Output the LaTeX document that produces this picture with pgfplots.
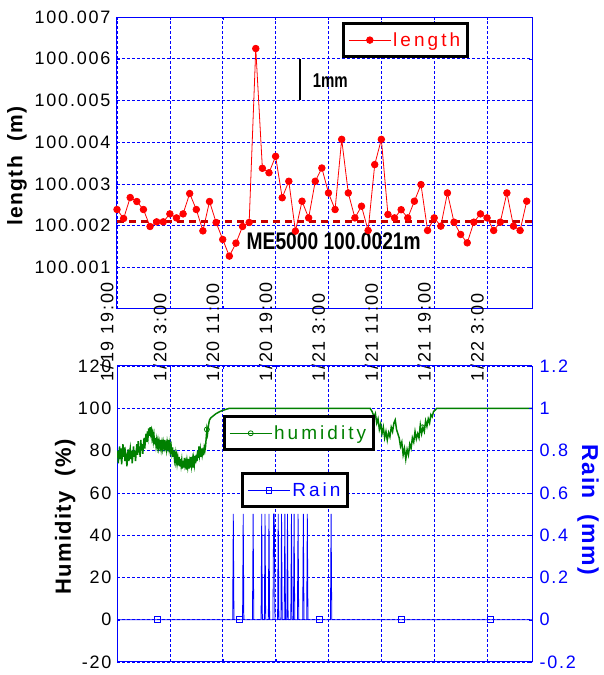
\documentclass[border=0pt]{standalone}
\usepackage{fontspec}
\setmainfont{Liberation Sans}
\newfontfamily\tickfont[LetterSpace=10]{Liberation Sans}
\newfontfamily\legfont[LetterSpace=16]{Liberation Sans}
\newfontfamily\labfont[LetterSpace=6]{Liberation Sans}
\usepackage{graphicx}
\usepackage{pgfplots}
\pgfplotsset{compat=1.18}
\definecolor{hgreen}{RGB}{0,128,0}
\definecolor{mred}{RGB}{200,0,0}

\pgfplotstableread{
h len
0 2.385
1 2.170
2 2.672
3 2.577
4 2.385
5 1.978
6 2.089
7 2.089
8 2.280
9 2.184
10 2.280
11 2.768
12 2.385
13 1.873
14 2.577
15 2.074
16 1.667
17 1.268
18 1.579
19 1.978
20 2.074
21 6.244
22 3.373
23 3.266
24 3.660
25 2.667
26 3.062
27 1.866
28 2.584
29 2.184
30 3.062
31 3.380
32 2.782
33 2.385
34 4.067
35 2.782
36 2.184
37 2.464
38 1.883
39 3.462
40 4.067
41 2.266
42 2.184
43 2.380
44 2.184
45 2.584
46 2.983
47 1.883
48 2.184
49 1.986
50 2.782
51 2.081
52 1.787
53 1.586
54 2.081
55 2.280
56 2.184
57 1.883
58 2.081
59 2.782
60 1.986
61 1.883
62 2.584
}\lengthdata

\pgfplotstableread{
h hum
0.0 76.5
0.1 80
0.2 74
0.3 79
0.4 82
0.5 76
0.6 81
0.7 73.5
0.8 78
0.9 83
1.0 77
1.1 81.5
1.2 75
1.3 79
1.4 77
1.5 72.5
1.6 78
1.7 80.5
1.8 75
1.9 79
2.0 81
2.1 76
2.2 80
2.3 74
2.4 78
2.5 82
2.6 77
2.7 80
2.8 75
2.9 79
3.0 83
3.1 78
3.2 84.5
3.3 79
3.4 82
3.5 77
3.6 85
3.7 80
3.8 83
3.9 78.5
4.0 82
4.1 86
4.2 81
4.3 85
4.4 88
4.5 84
4.6 89
4.7 86.5
4.8 90.5
4.9 87
5.0 91
5.1 88
5.2 89.5
5.3 86
5.4 88
5.5 84.5
5.6 87
5.7 83
5.8 86
5.9 82.5
6.0 85
6.1 82
6.2 84.5
6.3 81.5
6.4 84
6.5 82
6.6 85
6.7 81
6.8 83.5
6.9 81
7.0 84
7.1 82
7.2 85
7.3 81.5
7.4 83
7.5 80.5
7.6 84
7.7 82
7.8 85
7.9 81
8.0 83.5
8.1 80
8.2 82
8.3 79
8.4 81.5
8.5 77
8.6 80
8.7 76
8.8 78.5
8.9 75
9.0 77.5
9.1 74
9.2 76.5
9.3 73
9.4 77
9.5 72.5
9.6 76
9.7 73
9.8 75.5
9.9 71.5
10.0 75
10.1 72
10.2 76.5
10.3 73
10.4 74.5
10.5 71
10.6 75
10.7 72.5
10.8 76
10.9 71.5
11.0 74.5
11.1 72
11.2 77
11.3 73
11.4 75.5
11.5 72
11.6 76
11.7 73.5
11.8 77.5
11.9 74
12.0 78
12.1 75
12.2 80
12.3 76.5
12.4 82
12.5 78
12.6 80.5
12.7 77
12.8 81
12.9 78
13.0 80
13.1 79
13.2 81.5
13.3 80
13.4 82
13.5 86
13.6 90
13.7 88
13.8 91
13.9 93
14.0 94.5
14.2 95.5
14.4 96
14.6 96.5
14.8 97
15.0 97.5
15.3 98
15.6 98.5
16.0 99
16.5 99.5
17.0 100
38.3 100
38.6 98.5
38.9 96
39.1 97.5
39.3 93
39.5 95
39.7 90
39.9 92.5
40.1 88
40.3 91
40.5 86
40.7 89
40.9 85
41.1 88.5
41.3 86.5
41.5 91
41.7 89
41.9 93
42.1 94.5
42.3 90
42.5 88
42.7 86
42.9 82
43.1 84
43.3 78
43.5 81
43.7 76
43.9 80.5
44.1 78
44.3 83
44.5 81
44.7 86
44.9 84
45.1 89
45.3 85.5
45.5 88
45.7 86
45.9 92
46.1 88
46.3 91
46.5 89
46.7 94
46.9 91.5
47.1 95
47.3 93
47.5 97
47.7 96
47.9 98.5
48.1 99
48.4 100
62.8 100
}\humdata

\pgfplotstableread{
h rain
0 0
17.5 0
17.6 0.5
17.7 0
19.0 0
19.1 0.5
19.2 0
20.5 0
20.6 0.5
20.7 0
21.8 0
21.9 0.5
22.0 0
22.3 0
22.4 0.5
22.5 0
22.9 0
23.0 0.5
23.1 0
23.6 0
23.7 0.5
23.8 0.5
23.9 0
24.3 0
24.4 0.5
24.5 0
24.8 0
24.9 0.5
25.0 0
25.3 0
25.4 0.5
25.5 0
25.7 0
25.8 0.5
25.9 0
26.3 0
26.4 0.5
26.5 0
26.7 0
26.8 0.5
26.9 0
27.3 0
27.4 0.5
27.5 0
28.1 0
28.2 0.5
28.3 0
28.7 0
28.8 0.5
28.9 0
32.3 0
32.4 0.5
32.5 0
62.8 0
}\raindata

\begin{document}
\begin{tikzpicture}
\useasboundingbox (0,0) rectangle (603pt,675pt);
\pgfplotsset{
  common/.style={scale only axis, width=415pt, anchor=south west,
    xmin=0, xmax=62.8,
    axis line style={blue, line width=1pt},
    grid style={blue, dash pattern=on 3pt off 2pt, line width=0.7pt},
    tick style={blue},
    major tick length=3pt,
    tick label style={font=\tickfont\fontsize{18}{18}\selectfont},
    /pgf/number format/assume math mode=true,
    legend image code/.code={\draw[line width=0.8pt, mark repeat=2,mark phase=2,##1] plot coordinates {(0pt,0pt) (21pt,0pt) (42pt,0pt)};},
  },
  boxleg/.style={draw=black, line width=3pt, fill=white,
    font=\legfont\fontsize{19}{19}\selectfont, inner xsep=5pt, inner ysep=7pt},
}
% ---------- top axis ----------
\begin{axis}[common, at={(117pt,366pt)}, height=292pt,
  ymin=0, ymax=7,
  xtick={0,8,16,24,32,40,48,56},
  xticklabels={1/19 19:00, 1/20 3:00, 1/20 11:00, 1/20 19:00, 1/21 3:00, 1/21 11:00, 1/21 19:00, 1/22 3:00},
  xticklabel style={rotate=90, anchor=west, xshift=-76pt, yshift=10pt},
  ytick={1,2,3,4,5,6,7},
  yticklabels={100.001,100.002,100.003,100.004,100.005,100.006,100.007},
  yticklabel style={xshift=-3pt},
  grid=major,
  every axis y label/.style={at={(axis description cs:-0.241,0.49)}, rotate=90, anchor=center, font=\labfont\bfseries\fontsize{21}{21}\selectfont},
  ylabel={length~~(m)},
  legend style={boxleg, at={(axis description cs:0.542,0.983)}, anchor=north west},
]
\addplot[mred, line width=3.5pt, dash pattern=on 7pt off 5pt, forget plot] coordinates {(0,2.1) (62.8,2.1)};
\addplot[red, line width=0.8pt, mark=*, mark size=3.3pt, mark options={fill=red, draw=red, line width=0.8pt}] table[x=h, y=len] {\lengthdata};
\addlegendentry{\textcolor{red}{length}}
\addplot[black, line width=2pt, forget plot] coordinates {(27.7,5.0) (27.7,6.0)};
\node[anchor=west, inner sep=0pt] at (axis cs:29.6,5.48) {\scalebox{0.75}[1]{\bfseries\fontsize{20}{20}\selectfont 1mm}};
\node[anchor=west, inner sep=0pt] at (axis cs:19.6,1.63) {\scalebox{0.8}[1]{\bfseries\fontsize{24}{24}\selectfont ME5000 100.0021m}};
\end{axis}
% ---------- bottom axis: humidity ----------
\begin{axis}[common, at={(117pt,13pt)}, height=296pt,
  ymin=-20, ymax=120,
  ytick={-20,0,20,40,60,80,100,120},
  xtick={0,8,16,24,32,40,48,56},
  xticklabels={},
  axis y line*=left,
  yticklabel style={xshift=-2pt},
  grid=major,
  every axis y label/.style={at={(axis description cs:-0.125,0.49)}, rotate=90, anchor=center, font=\labfont\bfseries\fontsize{22}{22}\selectfont},
  ylabel={Humidity~~(\%)},
  legend style={boxleg, at={(axis description cs:0.255,0.834)}, anchor=north west},
]
\addlegendimage{hgreen, line width=0.8pt, mark=o, mark size=2.5pt, mark options={line width=0.8pt}}
\addlegendentry{\textcolor{hgreen}{humidity}}
\addplot[hgreen, line width=1.5pt, forget plot] table[x=h, y=hum] {\humdata};
\addplot[hgreen, only marks, mark=o, mark size=2.5pt, line width=0.8pt, forget plot] coordinates {(13.6,90) (46.2,91)};
\end{axis}
% ---------- bottom axis: rain ----------
\begin{axis}[scale only axis, width=415pt, height=296pt, at={(117pt,13pt)}, anchor=south west,
  xmin=0, xmax=62.8, ymin=-0.2, ymax=1.2,
  axis y line*=right, axis x line=none,
  axis line style={blue, line width=1pt},
  tick style={blue}, major tick length=3pt,
  ytick={-0.2,0,0.2,0.4,0.6,0.8,1,1.2},
  yticklabel style={blue, xshift=4pt, font=\tickfont\fontsize{18}{18}\selectfont},
  /pgf/number format/assume math mode=true,
  every axis y label/.style={at={(axis description cs:1.135,0.514)}, rotate=-90, anchor=center, font=\labfont\bfseries\fontsize{23}{23}\selectfont, text=blue},
  ylabel={Rain~~(mm)},
  legend image code/.code={\draw[line width=0.8pt, mark repeat=2,mark phase=2,#1] plot coordinates {(0pt,0pt) (21pt,0pt) (42pt,0pt)};},
  legend style={boxleg, at={(axis description cs:0.299,0.642)}, anchor=north west},
]
\addlegendimage{blue, line width=0.8pt, mark=square, mark size=2.8pt, mark options={line width=0.8pt}}
\addlegendentry{\textcolor{blue}{Rain}}
\addplot[blue, line width=0.8pt, forget plot] table[x=h, y=rain] {\raindata};
\addplot[blue, only marks, mark=square, mark size=3pt, line width=0.8pt, forget plot] coordinates {(6.05,0) (18.5,0) (30.7,0) (43.1,0) (56.5,0)};
\end{axis}
\end{tikzpicture}
\end{document}
